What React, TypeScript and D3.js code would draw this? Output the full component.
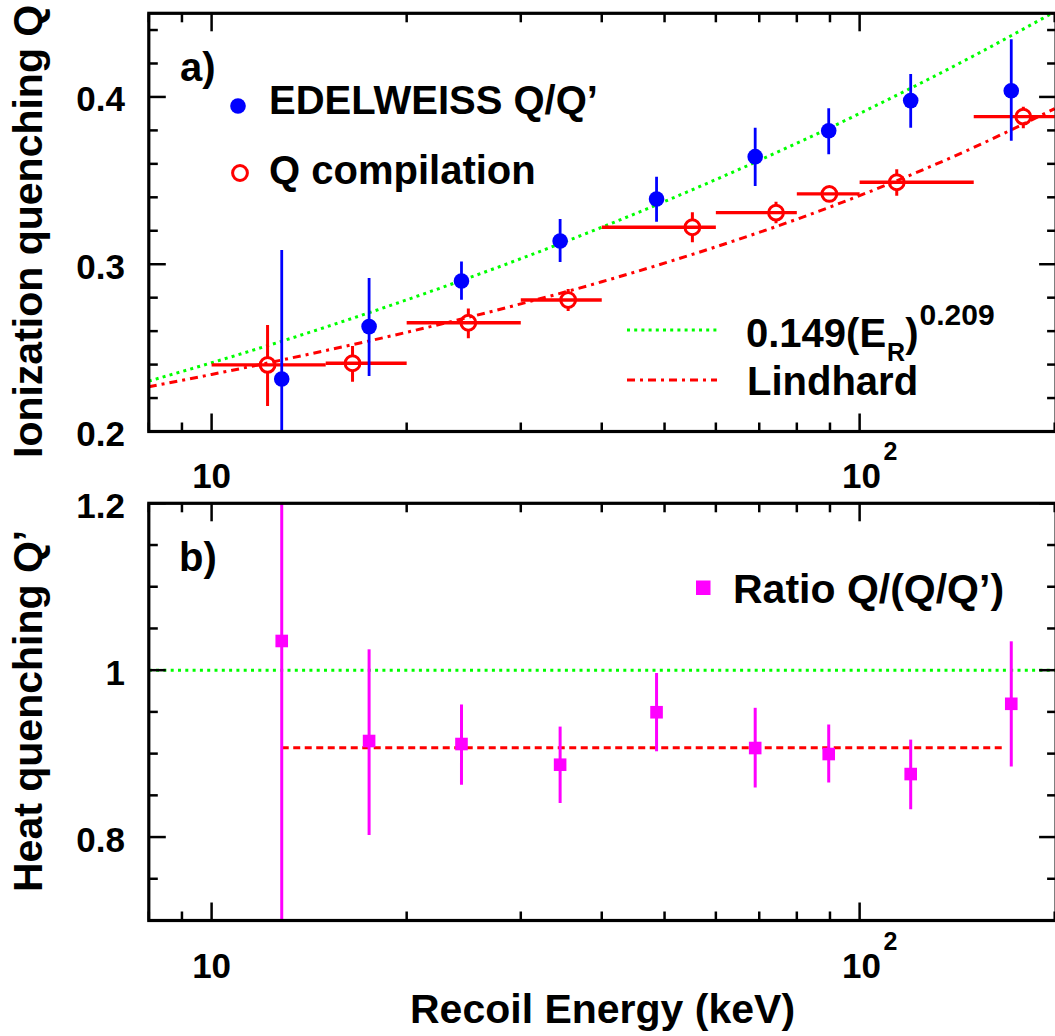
import React from "react";
import * as d3 from "d3";

// ---------- Panel a) : EDELWEISS Q/Q' ----------
const edwE = [12.83, 17.5, 24.3, 34.5, 48.6, 69.0, 89.6, 119.9, 171.4];
const edwQ = [0.2314, 0.2627, 0.29, 0.3139, 0.339, 0.3643, 0.3798, 0.3978, 0.4037];
const edwLo = [0.19, 0.2332, 0.2787, 0.3013, 0.3254, 0.3468, 0.3657, 0.3816, 0.3738];
const edwHi = [0.3085, 0.2918, 0.3016, 0.327, 0.3523, 0.3816, 0.3932, 0.4137, 0.4345];

// ---------- Panel a) : Q compilation ----------
const compE = [12.2, 16.5, 24.9, 35.5, 55.2, 74.3, 89.8, 114.1, 178.9];
const compElo = [10, 15, 20, 30, 40, 60, 80, 100, 150];
const compEhi = [15, 20, 30, 40, 60, 80, 100, 150, 200];
const compQ = [0.2398, 0.2408, 0.265, 0.2786, 0.3221, 0.3308, 0.342, 0.349, 0.3882];
const compLo = [0.2152, 0.2298, 0.2557, 0.272, 0.3131, 0.3245, 0.3374, 0.341, 0.3813];
const compHi = [0.2637, 0.2511, 0.2736, 0.2852, 0.331, 0.3374, 0.3463, 0.3567, 0.3942];

// ---------- Panel a) : curves (read off the picture) ----------
const curveE = [8, 10, 15, 20, 30, 40, 60, 80, 100, 150, 200];
const fitQ = [0.2301, 0.2411, 0.2624, 0.2787, 0.3033, 0.3221, 0.3506, 0.3723, 0.3901, 0.4246, 0.4509];
const lindhardQ = [0.2268, 0.2341, 0.2484, 0.2593, 0.2763, 0.2895, 0.3104, 0.3269, 0.341, 0.3698, 0.393];

// ---------- Panel b) : ratio Q/(Q/Q') ----------
const ratioE = [12.83, 17.5, 24.3, 34.5, 48.6, 69.0, 89.6, 119.9, 171.4];
const ratioV = [1.035, 0.9151, 0.9115, 0.8867, 0.9496, 0.9067, 0.8995, 0.8755, 0.9597];
const ratioLo = [0.65, 0.8025, 0.8628, 0.8407, 0.9028, 0.8595, 0.8655, 0.8334, 0.8847];
const ratioHi = [1.25, 1.025, 0.9589, 0.9324, 0.9966, 0.9549, 0.9349, 0.9168, 1.0346];
const meanRatio = 0.907;
const meanRange = [12.83, 168];
const unityLevel = 1;

// ---------- axes ----------
const xDomain = [8, 201];
const yDomainA = [0.2, 0.45];
const yDomainB = [0.7, 1.2];
const yLabelsA = [0.2, 0.3, 0.4];
const yLabelsB = [0.8, 1, 1.2];
const xLabels = [
  { v: 10, base: "10", exp: "" },
  { v: 100, base: "10", exp: "2" },
];

const FONT = '"Liberation Sans", Arial, Helvetica, sans-serif';
const W = 1055;
const H = 1036;
const BLUE = "#0000ff";
const RED = "#ff0000";
const GREEN = "#00ff00";
const MAG = "#ff00ff";

const L = 148.8;
const R = 1056.1;

const x = d3.scaleLog().domain(xDomain).range([L, R]);

function isDecade(v: number) {
  const l = Math.log10(v);
  return Math.abs(l - Math.round(l)) < 1e-6;
}

function Frame({ y, yTicks, isMajorY, labels, labelFmt, top, bottom, xLabBase, xSupBase }: any) {
  const xt = x.ticks();
  return (
    <g>
      {xt.map((v: number, i: number) => {
        const len = isDecade(v) ? 18 : 9;
        const px = x(v);
        return (
          <g key={"xt" + i}>
            <line x1={px} x2={px} y1={bottom} y2={bottom - len} stroke="#000" strokeWidth={2.5} />
            <line x1={px} x2={px} y1={top} y2={top + len} stroke="#000" strokeWidth={2.5} />
          </g>
        );
      })}
      {yTicks.map((v: number, i: number) => {
        const len = isMajorY(v) ? 17 : 9;
        const py = y(v);
        return (
          <g key={"yt" + i}>
            <line x1={L} x2={L + len} y1={py} y2={py} stroke="#000" strokeWidth={2.5} />
            <line x1={R} x2={R - len} y1={py} y2={py} stroke="#000" strokeWidth={2.5} />
          </g>
        );
      })}
      <rect x={L} y={top} width={R - L} height={bottom - top} fill="none" stroke="#000" strokeWidth={3.2} />
      {labels.map((v: number, i: number) => (
        <text key={"yl" + i} x={125} y={y(v) + 14.5} textAnchor="end" fontSize={35} fontWeight="bold" fontFamily={FONT}>
          {labelFmt(v)}
        </text>
      ))}
      {xLabels.map((d, i) => {
        const px = x(d.v) + (d.exp ? 2 : 0);
        return d.exp ? (
          <text key={"xl" + i} x={px - 19.5} y={xLabBase} textAnchor="start" fontSize={35} fontWeight="bold" fontFamily={FONT}>
            {d.base}
            <tspan fontSize={25} dx={2.5} dy={xSupBase - xLabBase}>{d.exp}</tspan>
          </text>
        ) : (
          <text key={"xl" + i} x={px} y={xLabBase} textAnchor="middle" fontSize={35} fontWeight="bold" fontFamily={FONT}>
            {d.base}
          </text>
        );
      })}
    </g>
  );
}

export default function App() {
  const topA = 13.3, botA = 431.5;
  const topB = 503.3, botB = 920.5;
  const yA = d3.scaleLinear().domain(yDomainA).range([botA, topA]);
  const yB = d3.scaleLinear().domain(yDomainB).range([botB, topB]);

  const fitLine = d3
    .line<number>()
    .x((_, i) => x(curveE[i]))
    .y((d) => yA(d))
    .curve(d3.curveMonotoneX);

  const yTicksA = d3.range(0, 13).map((i) => +(0.2 + i * 0.02).toFixed(2));
  const yTicksB = d3.range(0, 11).map((i) => +(0.7 + i * 0.05).toFixed(2));
  const majA = (v: number) => Math.abs(v * 10 - Math.round(v * 10)) < 1e-6;
  const majB = (v: number) => Math.abs(v * 5 - Math.round(v * 5)) < 1e-6;

  const rc = 7.4;

  return (
    <svg width={W} height={H} style={{ position: "absolute", left: 0, top: 0, background: "#fff" }} fontFamily={FONT}>
      <defs>
        <clipPath id="clipA">
          <rect x={L} y={topA} width={R - L} height={botA - topA} />
        </clipPath>
        <clipPath id="clipB">
          <rect x={L} y={topB} width={R - L} height={botB - topB} />
        </clipPath>
      </defs>
      <rect x={0} y={0} width={W} height={H} fill="#fff" />

      {/* ---------------- Panel a ---------------- */}
      <g clipPath="url(#clipA)">
        <path d={fitLine(fitQ) || ""} fill="none" stroke={GREEN} strokeWidth={3} strokeDasharray="3 4.2" />
        <path d={fitLine(lindhardQ) || ""} fill="none" stroke={RED} strokeWidth={3} strokeDasharray="8 5 3 5" />
        {compE.map((e, i) => {
          const cx = x(e), cy = yA(compQ[i]);
          return (
            <g key={"c" + i}>
              <line x1={x(compElo[i])} x2={x(compEhi[i])} y1={cy} y2={cy} stroke={RED} strokeWidth={3.3} />
              <line x1={cx} x2={cx} y1={yA(compHi[i])} y2={cy - rc} stroke={RED} strokeWidth={3} />
              <line x1={cx} x2={cx} y1={cy + rc} y2={yA(compLo[i])} stroke={RED} strokeWidth={3} />
            </g>
          );
        })}
        {edwE.map((e, i) => (
          <line key={"eb" + i} x1={x(e)} x2={x(e)} y1={yA(edwHi[i])} y2={yA(edwLo[i])} stroke={BLUE} strokeWidth={2.8} />
        ))}
        {compE.map((e, i) => (
          <circle key={"cc" + i} cx={x(e)} cy={yA(compQ[i])} r={rc} fill="none" stroke={RED} strokeWidth={3} />
        ))}
        {edwE.map((e, i) => (
          <circle key={"ed" + i} cx={x(e)} cy={yA(edwQ[i])} r={7.8} fill={BLUE} />
        ))}
      </g>
      <Frame y={yA} yTicks={yTicksA} isMajorY={majA} labels={yLabelsA} labelFmt={(v: number) => v.toFixed(1)}
        top={topA} bottom={botA} xLabBase={488} xSupBase={460} />

      {/* legend a */}
      <text x={180} y={80.5} fontSize={40} fontWeight="bold">a)</text>
      <circle cx={238} cy={106} r={7.8} fill={BLUE} />
      <text x={269} y={113.5} fontSize={40} fontWeight="bold">EDELWEISS Q/Q’</text>
      <circle cx={240} cy={173} r={rc} fill="none" stroke={RED} strokeWidth={3} />
      <text x={269} y={184} fontSize={40} fontWeight="bold">Q compilation</text>

      <line x1={627} x2={717} y1={330} y2={330} stroke={GREEN} strokeWidth={3} strokeDasharray="3 4.2" />
      <text x={746} y={347} fontSize={40} fontWeight="bold">
        0.149(E
        <tspan fontSize={25} dx={1} dy={14}>R</tspan>
        <tspan dy={-14}>)</tspan>
        <tspan fontSize={30} dx={1} dy={-22}>0.209</tspan>
      </text>
      <line x1={627} x2={717} y1={380} y2={380} stroke={RED} strokeWidth={3} strokeDasharray="8 5 3 5" />
      <text x={747} y={395} fontSize={40} fontWeight="bold">Lindhard</text>

      {/* ---------------- Panel b ---------------- */}
      <g clipPath="url(#clipB)">
        <line x1={L} x2={R} y1={yB(unityLevel)} y2={yB(unityLevel)} stroke={GREEN} strokeWidth={3} strokeDasharray="3 4.3" />
        <line x1={x(meanRange[0])} x2={x(meanRange[1])} y1={yB(meanRatio)} y2={yB(meanRatio)} stroke={RED} strokeWidth={3} strokeDasharray="7 4.5" />
        {ratioE.map((e, i) => (
          <line key={"rb" + i} x1={x(e)} x2={x(e)} y1={yB(ratioHi[i])} y2={yB(ratioLo[i])} stroke={MAG} strokeWidth={3} />
        ))}
        {ratioE.map((e, i) => (
          <rect key={"rs" + i} x={x(e) - 6.3} y={yB(ratioV[i]) - 6.3} width={12.6} height={12.6} fill={MAG} />
        ))}
      </g>
      <Frame y={yB} yTicks={yTicksB} isMajorY={majB} labels={yLabelsB}
        labelFmt={(v: number) => (Math.abs(v - Math.round(v)) < 1e-6 ? String(Math.round(v)) : v.toFixed(1))}
        top={topB} bottom={botB} xLabBase={978} xSupBase={950} />

      <text x={179} y={571} fontSize={40} fontWeight="bold">b)</text>
      <rect x={696} y={580.5} width={14.5} height={14.5} fill={MAG} />
      <text x={733} y={603} fontSize={41} fontWeight="bold">Ratio Q/(Q/Q’)</text>

      {/* axis titles */}
      <text transform="translate(42,458) rotate(-90)" fontSize={41} fontWeight="bold">Ionization quenching Q</text>
      <text transform="translate(42,892) rotate(-90)" fontSize={41} fontWeight="bold">Heat quenching Q’</text>
      <text x={410} y={1023} fontSize={41} fontWeight="bold">Recoil Energy (keV)</text>
    </svg>
  );
}
